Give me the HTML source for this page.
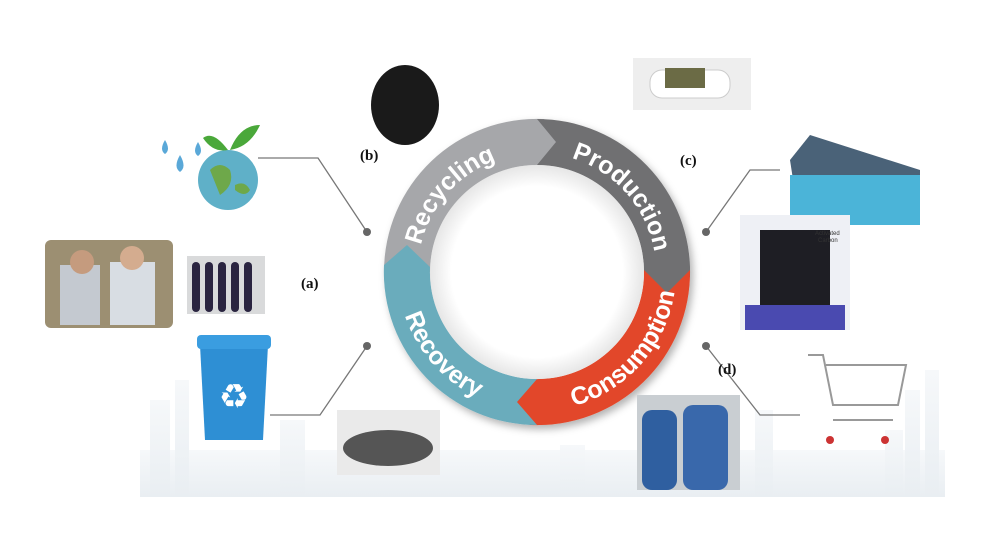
<!DOCTYPE html><html><head><style>body{margin:0;background:#fff}svg{display:block}.rt{font-family:"Liberation Sans",sans-serif;font-weight:700;font-size:25px;fill:#fff}</style></head><body>
<svg width="988" height="541" viewBox="0 0 988 541" xmlns="http://www.w3.org/2000/svg" font-family="Liberation Sans, sans-serif">
<defs>
<radialGradient id="sh" cx="0.5" cy="0.5" r="0.5"><stop offset="0.8" stop-color="#fff"/><stop offset="1" stop-color="#e6e6e6"/></radialGradient>
<linearGradient id="sky" x1="0" y1="0" x2="0" y2="1"><stop offset="0" stop-color="#f6f8fa"/><stop offset="1" stop-color="#e9eef2"/></linearGradient>
<filter id="ds"><feDropShadow dx="3" dy="4" stdDeviation="4" flood-color="#000" flood-opacity="0.3"/></filter>
<path id="tTop" d="M 418 272 A 119 119 0 0 1 656 272"/>
<path id="tBot" d="M 398 272 A 139 139 0 0 0 676 272"/>
</defs>
<!-- skyline -->
<g fill="url(#sky)">
<rect x="140" y="450" width="805" height="47"/>
<rect x="150" y="400" width="20" height="97"/><rect x="175" y="380" width="14" height="117"/><rect x="280" y="420" width="25" height="77"/><rect x="440" y="450" width="30" height="47"/><rect x="560" y="445" width="25" height="52"/><rect x="755" y="410" width="18" height="87"/><rect x="905" y="390" width="15" height="107"/><rect x="925" y="370" width="14" height="127"/><rect x="885" y="430" width="18" height="67"/>
</g>
<!-- connectors -->
<g stroke="#777" stroke-width="1.3" fill="none">
<polyline points="258,158 318,158 367,232"/><polyline points="270,415 320,415 367,346"/>
<polyline points="706,232 750,170 780,170"/><polyline points="706,346 760,415 800,415"/>
</g>
<g fill="#666"><circle cx="367" cy="232" r="4"/><circle cx="367" cy="346" r="4"/><circle cx="706" cy="232" r="4"/><circle cx="706" cy="346" r="4"/></g>
<g font-family="Liberation Serif, serif" font-weight="bold" font-size="15" fill="#111">
<text x="301" y="288">(a)</text><text x="360" y="160">(b)</text><text x="680" y="165">(c)</text><text x="718" y="374">(d)</text></g>
<!-- ring -->
<g filter="url(#ds)">
<path d="M384 272 A153 153 0 0 1 544 119 L562 142 L541 165 A107 107 0 0 0 430 272 Z" fill="#a6a7aa"/>
<path d="M537 119 A153 153 0 0 1 690 277 L667 298 L644 275 A107 107 0 0 0 537 165 L556 142 Z" fill="#707072"/>
<path d="M690 270 A153 153 0 0 1 530 425 L510 405 L533 379 A107 107 0 0 0 644 270 L667 293 Z" fill="#e2472a"/>
<path d="M537 425 A153 153 0 0 1 384 265 L407 245 L430 267 A107 107 0 0 0 537 379 L517 402 Z" fill="#6aacbc"/>
</g>
<circle cx="537" cy="272" r="107" fill="url(#sh)"/>
<text class="rt"><textPath href="#tTop" startOffset="23%" text-anchor="middle">Recycling</textPath></text>
<text class="rt"><textPath href="#tTop" startOffset="77%" text-anchor="middle">Production</textPath></text>
<text class="rt"><textPath href="#tBot" startOffset="77%" text-anchor="middle">Consumption</textPath></text>
<text class="rt"><textPath href="#tBot" startOffset="23%" text-anchor="middle">Recovery</textPath></text>
<!-- images approximations -->
<ellipse cx="405" cy="105" rx="34" ry="40" fill="#1a1a1a"/>
<rect x="633" y="58" width="118" height="52" fill="#eeeeee"/><rect x="650" y="70" width="80" height="28" rx="12" fill="#fff" stroke="#ccc"/><rect x="665" y="68" width="40" height="20" fill="#6b6b45"/>
<g fill="#5aa8d8"><path d="M165 140 q-6 10 0 14 q6 -4 0 -14z"/><path d="M180 155 q-7 12 0 17 q7 -5 0 -17z"/><path d="M198 142 q-6 10 0 14 q6 -4 0 -14z"/></g>
<circle cx="228" cy="180" r="30" fill="#5fb0c8"/><path d="M210 170 q10 -10 20 0 q5 15 -10 25z M235 185 q10 -5 15 5 q-5 8 -15 0z" fill="#6ea84a"/>
<path d="M228 150 q-15 -20 -25 -12 q10 15 25 12z M230 150 q10 -25 30 -25 q-10 22 -30 25z" fill="#4aa83a"/>
<rect x="45" y="240" width="128" height="88" rx="6" fill="#9c8f72"/><rect x="60" y="265" width="40" height="60" fill="#c4c9d0"/><rect x="110" y="262" width="45" height="63" fill="#d8dde3"/><circle cx="82" cy="262" r="12" fill="#c59b7e"/><circle cx="132" cy="258" r="12" fill="#d4ac8f"/>
<rect x="187" y="256" width="78" height="58" fill="#d9dadb"/><g fill="#2a2440"><rect x="192" y="262" width="8" height="50" rx="4"/><rect x="205" y="262" width="8" height="50" rx="4"/><rect x="218" y="262" width="8" height="50" rx="4"/><rect x="231" y="262" width="8" height="50" rx="4"/><rect x="244" y="262" width="8" height="50" rx="4"/></g>
<path d="M200 345 h68 l-5 95 h-58z" fill="#2e8fd4"/><rect x="197" y="335" width="74" height="14" rx="4" fill="#3a9de0"/><text x="234" y="408" font-size="34" fill="#fff" text-anchor="middle">♻</text>
<rect x="337" y="410" width="103" height="65" fill="#eaeaea"/><ellipse cx="388" cy="448" rx="45" ry="18" fill="#555"/>
<rect x="637" y="395" width="103" height="95" fill="#c9ced2"/><rect x="642" y="410" width="35" height="80" rx="10" fill="#2f5fa0"/><rect x="683" y="405" width="45" height="85" rx="10" fill="#3968ab"/>
<path d="M790 160 l20 -25 l110 35 v55 h-120z" fill="#4a6278"/><rect x="790" y="175" width="130" height="50" fill="#4bb4d8"/>
<rect x="740" y="215" width="110" height="115" fill="#eef0f5"/><path d="M760 230 h70 v80 q-35 12 -70 0z" fill="#1e1e24"/><rect x="745" y="305" width="100" height="25" fill="#4a4ab0"/>
<text x="815" y="235" font-size="6" fill="#333">Activated</text><text x="818" y="242" font-size="6" fill="#333">Carbon</text>
<g stroke="#999" stroke-width="2" fill="none"><path d="M808 355 h15 l10 50 h65 l8 -40 h-80"/><path d="M833 420 h60"/></g>
<g fill="#c33"><circle cx="830" cy="440" r="4"/><circle cx="885" cy="440" r="4"/></g>
</svg></body></html>
